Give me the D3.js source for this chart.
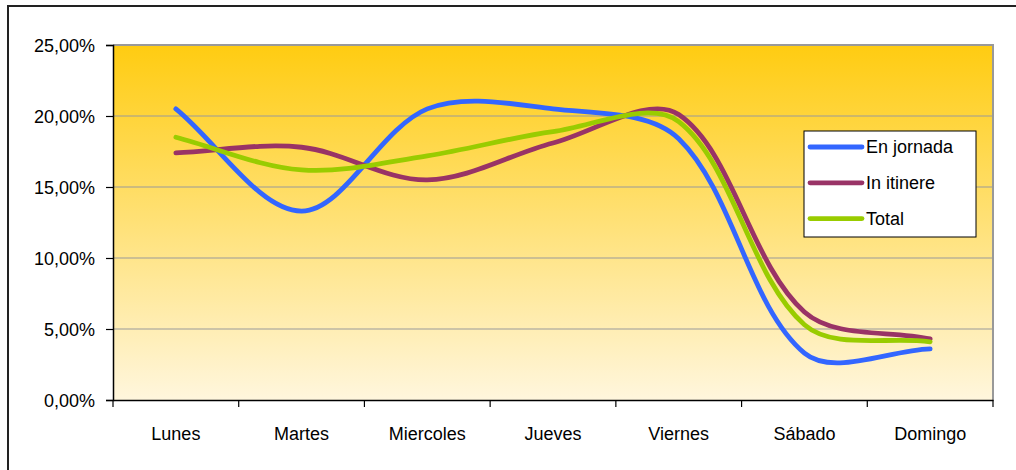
<!DOCTYPE html>
<html>
<head>
<meta charset="utf-8">
<script src="https://cdn.jsdelivr.net/npm/d3@7"></script>
<style>
  body { margin: 0; background: #fff; }
  svg text { font-family: "Liberation Sans", Arial, sans-serif; fill: #000; }
</style>
</head>
<body>
<svg id="chart" width="1016" height="470"></svg>
<script>
// days of the week (categories)
var days = ["Lunes", "Martes", "Miercoles", "Jueves", "Viernes", "Sábado", "Domingo"];

// percentages
var enJornada = [20.5, 13.3, 20.5, 20.5, 18.4, 3.3, 3.6];
var inItinere = [17.4, 17.8, 15.5, 18.1, 20.1, 6.2, 4.3];
var total     = [18.5, 16.2, 17.2, 18.9, 19.6, 5.3, 4.1];

var yTicks = [0, 5, 10, 15, 20, 25];

var seriesNames = ["En jornada", "In itinere", "Total"];
var seriesColors = ["#3366ff", "#993366", "#99cc00"];

var svg = d3.select("svg#chart"),
  width = +svg.attr("width"),
  height = +svg.attr("height");

var plot = {left: 113, top: 45, right: 993, bottom: 400};

// outer frame
svg.append("rect")
  .attr("x", 8).attr("y", 6)
  .attr("width", 1030).attr("height", 500)
  .attr("fill", "#fff")
  .attr("stroke", "#222")
  .attr("stroke-width", 2);

var defs = svg.append("defs");
var grad = defs.append("linearGradient")
  .attr("id", "bg")
  .attr("x1", 0).attr("y1", 0).attr("x2", 0).attr("y2", 1);
grad.append("stop").attr("offset", "0%").attr("stop-color", "#ffcc11");
grad.append("stop").attr("offset", "100%").attr("stop-color", "#fff6dd");

var x = d3.scaleBand()
  .domain(days)
  .range([plot.left, plot.right]);

var y = d3.scaleLinear()
  .domain([0, 25])
  .range([plot.bottom, plot.top]);

// plot area background
svg.append("rect")
  .attr("x", plot.left).attr("y", plot.top)
  .attr("width", plot.right - plot.left)
  .attr("height", plot.bottom - plot.top)
  .attr("fill", "url(#bg)");

// grid lines
svg.append("g")
  .selectAll("line")
  .data(yTicks.filter(function(d) { return d > 0 && d < 25; }))
  .enter().append("line")
  .attr("x1", plot.left).attr("x2", plot.right)
  .attr("y1", function(d) { return y(d); })
  .attr("y2", function(d) { return y(d); })
  .attr("stroke", "#999")
  .attr("stroke-width", 1.2);

// top and right border of plot area
svg.append("path")
  .attr("d", "M" + plot.left + "," + plot.top + "H" + plot.right + "V" + plot.bottom)
  .attr("fill", "none")
  .attr("stroke", "#999")
  .attr("stroke-width", 2);

var fmt = function(d) { return d3.format(".2f")(d).replace(".", ",") + "%"; };

// y axis
var yAxis = svg.append("g")
  .attr("transform", "translate(" + plot.left + ",0)")
  .call(d3.axisLeft(y).tickValues(yTicks).tickFormat(fmt).tickSize(7).tickPadding(11));
yAxis.select(".domain").attr("stroke", "#000").attr("stroke-width", 1.5);
yAxis.selectAll(".tick line").attr("stroke", "#000").attr("stroke-width", 1.2);
yAxis.selectAll("text").attr("font-size", "18px").attr("font-family", "Liberation Sans, Arial, sans-serif").attr("dy", "0.36em");

// x axis with ticks on category boundaries
var xAxis = svg.append("g")
  .attr("transform", "translate(0," + plot.bottom + ")")
  .call(d3.axisBottom(x).tickSize(0).tickPadding(27));
xAxis.select(".domain").attr("stroke", "#000").attr("stroke-width", 1.5);
xAxis.selectAll("text").attr("font-size", "18px").attr("font-family", "Liberation Sans, Arial, sans-serif");
xAxis.selectAll("line.sep")
  .data(days.concat(["end"]))
  .enter().append("line")
  .attr("class", "sep")
  .attr("x1", function(d, i) { return i < days.length ? x(d) : plot.right; })
  .attr("x2", function(d, i) { return i < days.length ? x(d) : plot.right; })
  .attr("y1", 0).attr("y2", 7)
  .attr("stroke", "#000")
  .attr("stroke-width", 1.2);

// spreadsheet-style smoothing: bezier tangents split by segment length
function smoothPath(pts) {
  var p = d3.path();
  var dist = function(a, b) { return Math.hypot(b[0] - a[0], b[1] - a[1]); };
  var n = pts.length;
  var tan = pts.map(function(pt, i) {
    var prev = pts[Math.max(i - 1, 0)], next = pts[Math.min(i + 1, n - 1)];
    return [next[0] - prev[0], next[1] - prev[1]];
  });
  p.moveTo(pts[0][0], pts[0][1]);
  for (var i = 0; i < n - 1; i++) {
    var a = pts[i], b = pts[i + 1];
    var dPrev = i > 0 ? dist(pts[i - 1], a) : 0;
    var dCur = dist(a, b);
    var dNext = i + 2 < n ? dist(b, pts[i + 2]) : 0;
    var f1 = dCur / (dPrev + dCur) / 3;
    var f2 = dCur / (dCur + dNext) / 3;
    p.bezierCurveTo(
      a[0] + tan[i][0] * f1, a[1] + tan[i][1] * f1,
      b[0] - tan[i + 1][0] * f2, b[1] - tan[i + 1][1] * f2,
      b[0], b[1]);
  }
  return p.toString();
}

var allSeries = [enJornada, inItinere, total];
allSeries.forEach(function(values, k) {
  var pts = values.map(function(v, i) {
    return [x(days[i]) + x.bandwidth() / 2, y(v)];
  });
  svg.append("path")
    .attr("d", smoothPath(pts))
    .attr("fill", "none")
    .attr("stroke", seriesColors[k])
    .attr("stroke-width", 4.8)
    .attr("stroke-linecap", "round")
    .attr("stroke-linejoin", "round");
});

// legend
var legend = svg.append("g").attr("transform", "translate(804,131)");
legend.append("rect")
  .attr("width", 172).attr("height", 106)
  .attr("fill", "#fff")
  .attr("stroke", "#000")
  .attr("stroke-width", 1);
seriesNames.forEach(function(name, i) {
  var ly = 16 + i * 35.8;
  legend.append("line")
    .attr("x1", 6).attr("x2", 58)
    .attr("y1", ly).attr("y2", ly)
    .attr("stroke", seriesColors[i])
    .attr("stroke-width", 4.8)
    .attr("stroke-linecap", "round");
  legend.append("text")
    .attr("x", 62).attr("y", ly)
    .attr("dy", "0.36em")
    .attr("font-size", "18px")
    .text(name);
});
</script>
</body>
</html>
